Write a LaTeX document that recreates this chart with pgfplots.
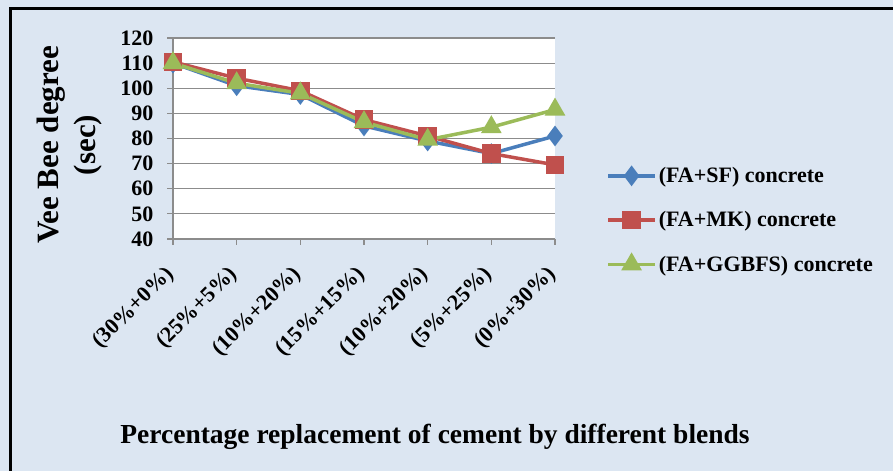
\documentclass[border=0pt]{standalone}
\usepackage{fontspec}
\setmainfont{Liberation Serif}
\usepackage{pgfplots}
\pgfplotsset{compat=1.18}

\definecolor{chartbg}{RGB}{220,230,242}
\definecolor{sfblue}{RGB}{74,126,187}
\definecolor{mkred}{RGB}{192,80,77}
\definecolor{ggbfsgreen}{RGB}{155,187,89}
\definecolor{gridgray}{RGB}{140,140,140}

\begin{document}
\begin{tikzpicture}[x=1bp,y=1bp]
% chart area and its frame
\fill[chartbg] (0,0) rectangle (893,471);
\draw[black, line width=3bp] (10,0) -- (10,462) -- (893,462);

\begin{axis}[
  at={(173bp,232bp)}, anchor=south west,
  scale only axis, width=382bp, height=201bp,
  xmin=0, xmax=6, ymin=40, ymax=120,
  xtick={0,...,6},
  xticklabels={(30\%+0\%),(25\%+5\%),(10\%+20\%),(15\%+15\%),(10\%+20\%),(5\%+25\%),(0\%+30\%)},
  ytick={40,50,...,120},
  axis lines*=left,
  axis line style={gridgray, line width=1.2bp},
  ymajorgrids, grid style={gridgray, line width=1.2bp},
  tick style={gridgray, line width=1.2bp},
  tick align=outside, major tick length=6bp,
  axis background/.style={fill=white},
  ticklabel style={font=\fontsize{22bp}{24bp}\selectfont\bfseries},
  /pgf/number format/assume math mode=true,
  yticklabel style={xshift=-10bp},
  xticklabel style={rotate=45, anchor=east},
  xticklabel shift=24bp,
  legend style={at={(1.126,0.094)}, anchor=west, draw=none, fill=none,
    font=\fontsize{22bp}{24bp}\selectfont\bfseries, row sep=23.5bp,
    nodes={inner sep=2bp}},
  legend cell align=left,
  legend image code/.code={
    \draw[mark repeat=2, mark phase=2] plot coordinates {(0bp,0bp) (23.5bp,0bp) (47bp,0bp)};},
]
\addplot[sfblue, line width=3.5bp, mark=diamond*, mark size=7.5bp, mark options={solid}]
  coordinates {(0,110) (1,101) (2,97.5) (3,85) (4,79) (5,74) (6,81)};
\addlegendentry{(FA+SF) concrete}
\addplot[mkred, line width=3.5bp, mark=square*, mark size=7.5bp, mark options={solid}]
  coordinates {(0,110.5) (1,104) (2,99) (3,87.5) (4,81) (5,74) (6,69.5)};
\addlegendentry{(FA+MK) concrete}
\addplot[ggbfsgreen, line width=3.5bp, mark=triangle*, mark size=8.5bp, mark options={solid}]
  coordinates {(0,110) (1,102) (2,98) (3,86.5) (4,79.5) (5,84.5) (6,91.5)};
\addlegendentry{(FA+GGBFS) concrete}
\end{axis}

% axis titles
\node[rotate=90, align=center, font=\fontsize{31bp}{37bp}\selectfont\bfseries]
  at (70,326) {Vee Bee degree\\(sec)};
\node[font=\fontsize{27.5bp}{30bp}\selectfont\bfseries]
  at (435,34) {Percentage replacement of cement by  different blends};

\pgfresetboundingbox
\useasboundingbox (0,0) rectangle (893,471);
\end{tikzpicture}
\end{document}
